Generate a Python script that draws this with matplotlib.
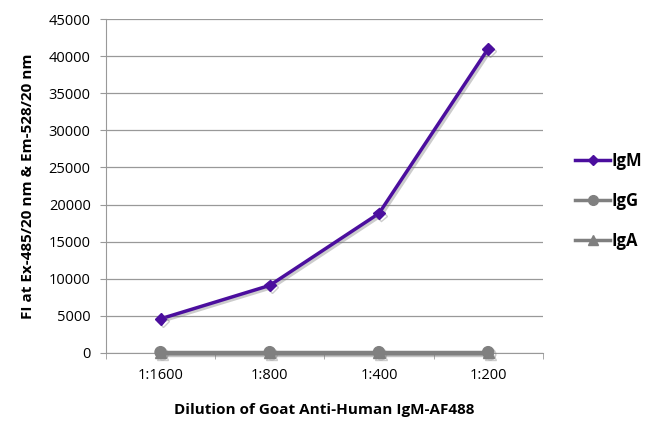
import matplotlib
matplotlib.use("Agg")
import matplotlib.pyplot as plt
import matplotlib.patheffects as pe
from matplotlib.lines import Line2D

dilutions = ["1:1600", "1:800", "1:400", "1:200"]
igm = [4600, 9100, 18800, 41000]
igg = [100, 100, 100, 100]
iga = [50, 50, 50, 50]

plt.rcParams['font.family'] = ['Open Sans', 'DejaVu Sans']

fig = plt.figure(figsize=(6.5, 4.32), dpi=100)
ax = fig.add_axes([0.163, 0.183, 0.672, 0.773])

shadow = [pe.SimpleLineShadow(offset=(1.5, -1.5), shadow_color='gray', alpha=0.4), pe.Normal()]
x = range(len(dilutions))
ax.plot(x, iga, color='#7f7f7f', lw=2.5, marker='^', ms=8, path_effects=shadow, clip_on=False, zorder=3)
ax.plot(x, igg, color='#808080', lw=2.5, marker='o', ms=8, path_effects=shadow, clip_on=False, zorder=4)
ax.plot(x, igm, color='#4b0e9e', lw=2.5, marker='D', ms=6, path_effects=shadow, clip_on=False, zorder=5)

ax.set_xlim(-0.5, len(dilutions) - 0.5)
ax.set_ylim(0, 45000)
ax.set_yticks(range(0, 45001, 5000))
ax.set_xticks(list(x))
ax.set_xticklabels(dilutions)
ax.set_xticks([i - 0.5 for i in range(len(dilutions) + 1)], minor=True)
ax.tick_params(axis='x', which='major', length=0, pad=11, labelsize=10.5)
ax.tick_params(axis='x', which='minor', length=4, color='#999999', direction='out')
ax.tick_params(axis='y', length=4, color='#999999', labelsize=10.5, pad=7)
ax.grid(axis='y', color='#999999', lw=0.9)
ax.set_axisbelow(True)
for s in ['top', 'right']:
    ax.spines[s].set_visible(False)
ax.spines['left'].set_color('#999999')
ax.spines['bottom'].set_color('#999999')

ax.set_xlabel("Dilution of Goat Anti-Human IgM-AF488", fontsize=11, fontweight='bold', labelpad=14)
ax.set_ylabel("FI at Ex-485/20 nm & Em-528/20 nm", fontsize=11, fontweight='bold', labelpad=10)

handles = [
    Line2D([], [], color='#4b0e9e', lw=2.5, marker='D', ms=5),
    Line2D([], [], color='#808080', lw=2.5, marker='o', ms=7),
    Line2D([], [], color='#7f7f7f', lw=2.5, marker='^', ms=7),
]
fig.legend(handles, ["IgM", "IgG", "IgA"], loc='center left', bbox_to_anchor=(0.862, 0.535),
           frameon=False, labelspacing=1.3, handlelength=2.1, handletextpad=0.1,
           prop={'weight': 'bold', 'size': 12})

fig.savefig("out.png", dpi=100)
